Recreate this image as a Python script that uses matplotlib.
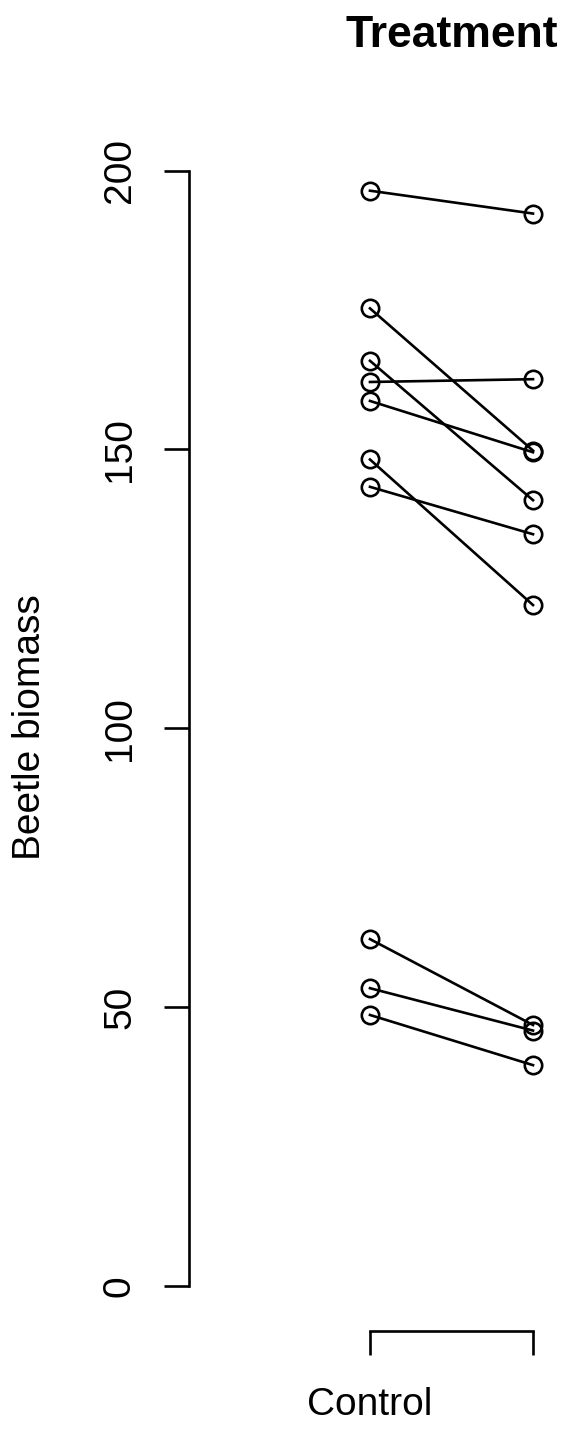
import matplotlib
matplotlib.use("Agg")
import matplotlib.pyplot as plt

plt.rcParams['font.family'] = ['Liberation Sans', 'DejaVu Sans']

# Biomasa por parcela: control frente a tratamiento
control = [196.4, 175.3, 165.9, 162.1, 158.7, 148.2, 143.3, 62.2, 53.4, 48.6]
treatment = [192.3, 149.8, 140.9, 162.6, 149.5, 122.1, 134.8, 46.8, 45.8, 39.6]
group_pos = [1, 2]
group_labels = ["Control", ""]
y_ticks = [0, 50, 100, 150, 200]

W, H = 571, 1429
fig = plt.figure(figsize=(W / 100, H / 100), dpi=100)

# la region del grafico sobresale a la derecha (figura recortada)
left, right, top, bottom = 189, 714, 126, 1331
ax = fig.add_axes([left / W, 1 - bottom / H, (right - left) / W, (bottom - top) / H])

for c, t in zip(control, treatment):
    ax.plot(group_pos, [c, t], color='black', lw=1.9, marker='o', ms=12.5,
            mfc='none', mec='black', mew=1.9, zorder=3)

ax.set_xlim(-0.110, 3.110)
ax.set_ylim(-8.07, 208.0)

for s in ['top', 'right']:
    ax.spines[s].set_visible(False)
ax.spines['left'].set_bounds(0, 200)
ax.spines['bottom'].set_bounds(1, 2)
for s in ['left', 'bottom']:
    ax.spines[s].set_linewidth(1.9)

ax.set_yticks(y_ticks)
ax.set_yticklabels([str(v) for v in y_ticks])
ax.set_xticks(group_pos)
ax.set_xticklabels(group_labels)
ax.tick_params(axis='y', direction='out', length=18, width=1.9, labelsize=28, pad=24.5)
ax.tick_params(axis='x', direction='out', length=17.3, width=1.9, labelsize=28, pad=22.7)
plt.setp(ax.get_yticklabels(), rotation=90, rotation_mode='anchor', ha='center', va='baseline')

fig.text(40 / W, 1 - 727 / H, "Beetle biomass", fontsize=28, rotation=90,
         rotation_mode='anchor', ha='center', va='baseline')
fig.text(451.5 / W, 1 - 47 / H, "Treatment", fontsize=32, fontweight='bold',
         ha='center', va='baseline')

fig.savefig("out.png", dpi=100)
